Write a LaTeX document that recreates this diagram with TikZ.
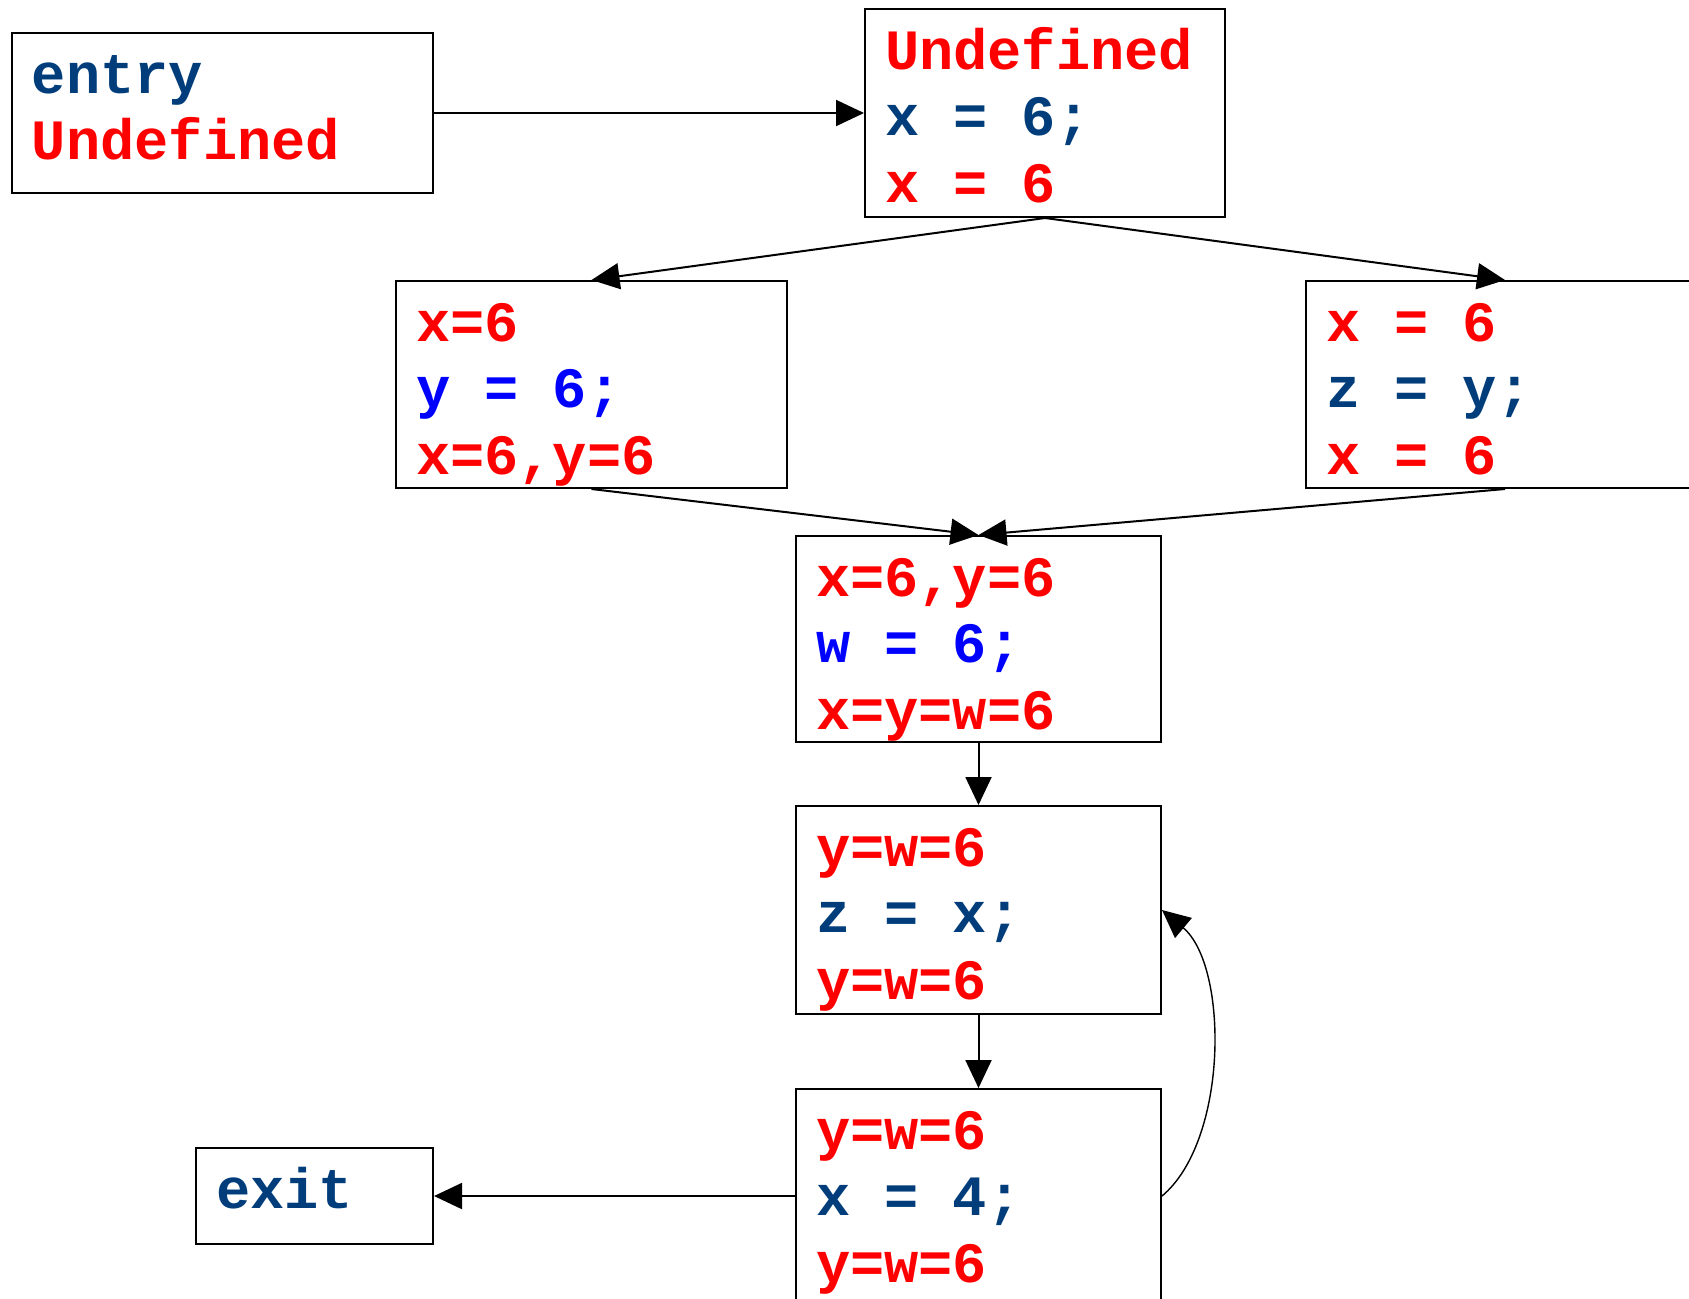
\documentclass[tikz,border=0pt]{standalone}
\usepackage{fontspec}
\setmonofont[Ligatures=CommonOff]{Liberation Mono}
\usetikzlibrary{arrows.meta}
\definecolor{stmtblue}{RGB}{0,61,122}
\definecolor{newblue}{RGB}{0,0,255}
\definecolor{factred}{RGB}{255,0,0}
\newcommand\codefont{\fontsize{28.5}{33.25}\selectfont\ttfamily\bfseries}
\newcommand\gap{\hspace*{0.6em}}

\begin{document}
\begin{tikzpicture}[x=0.5pt,y=-0.5pt,
	blk/.style={draw, line width=1pt, inner xsep=10pt, inner ysep=0pt, align=left,
		text width=#1, text height=30pt, text depth=74pt, font=\codefont},
	flow/.style={line width=1pt, -{Triangle[length=14pt,width=13pt]}}]
			\useasboundingbox (0,0) rectangle (1689,1298);
			\clip (0,0) rectangle (1689,1298);

			% blocks
			\node[blk=190.5pt, text depth=50pt] (entry) at (222.5,113)
				{\color{stmtblue}entry\\\color{factred}Undefined};
			\node[blk=160pt] (b1) at (1045,113)
				{\color{factred}Undefined\\\color{stmtblue}x\gap=\gap6;\\\color{factred}x\gap=\gap6};
			\node[blk=175.5pt, text depth=73.5pt] (b2) at (591.5,384.5)
				{\color{factred}x=6\\\color{newblue}y\gap=\gap6;\\\color{factred}x=6,y=6};
			\node[blk=179pt, text depth=73.5pt] (b3) at (1505,384.5)
				{\color{factred}x\gap=\gap6\\\color{stmtblue}z\gap=\gap y;\\\color{factred}x\gap=\gap6};
			\node[blk=162.5pt, text depth=73pt] (b4) at (978.5,639)
				{\color{factred}x=6,y=6\\\color{newblue}w\gap=\gap6;\\\color{factred}x=y=w=6};
			\node[blk=162.5pt] (b5) at (978.5,910)
				{\color{factred}y=w=6\\\color{stmtblue}z\gap=\gap x;\\\color{factred}y=w=6};
			\node[blk=162.5pt, text depth=77pt] (b6) at (978.5,1196)
				{\color{factred}y=w=6\\\color{stmtblue}x\gap=\gap4;\\\color{factred}y=w=6};
			\node[blk=98.5pt, text depth=18pt] (ex) at (314.5,1196)
				{\color{stmtblue}exit};

			% edges
			\draw[flow] (entry) -- (b1);
			\draw[flow] (b1.south) -- (b2.north);
			\draw[flow] (b1.south) -- (b3.north);
			\draw[flow] (b2.south) -- (b4.north);
			\draw[flow] (b3.south) -- (b4.north);
			\draw[flow] (b4) -- (b5);
			\draw[flow] (b5) -- (b6);
			\draw[flow] (b6) -- (ex);
			\draw[flow, line width=0.7pt] (b6.east) to[out=40, in=-40, looseness=0.78] (b5.east);
		\end{tikzpicture}
\end{document}
